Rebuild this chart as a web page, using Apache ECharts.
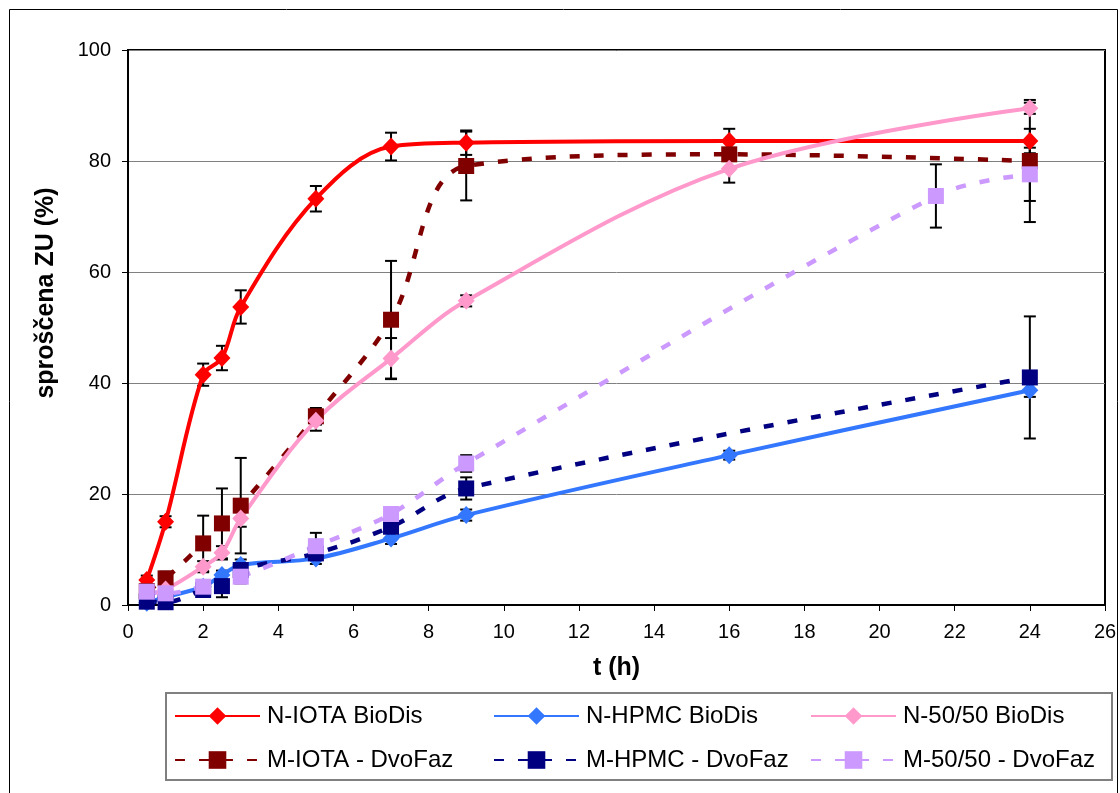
<!DOCTYPE html>
<html><head><meta charset="utf-8">
<script src="https://cdn.jsdelivr.net/npm/echarts@6/dist/echarts.min.js"></script>
<style>html,body{margin:0;padding:0;background:#fff}#c{width:1120px;height:793px}</style>
</head><body><div id="c"></div>
<script>
// ---- data ----
const seriesNames = ['N-IOTA BioDis','N-HPMC BioDis','N-50/50 BioDis','M-IOTA - DvoFaz','M-HPMC - DvoFaz','M-50/50 - DvoFaz'];
const xTicks = [0,2,4,6,8,10,12,14,16,18,20,22,24,26];
const yTicks = [0,20,40,60,80,100];
const xTitle = 't (h)';
const yTitle = 'sproščena ZU (%)';

const nTime = [0.5,1,2,2.5,3,5,7,9,16,24];
const nIota = [4.5,15,41.5,44.5,53.7,73.2,82.6,83.3,83.6,83.6];
const nIotaErr = [0.8,1,2,2.2,3,2.3,2.5,2.2,2.2,2.2];
const nHpmc = [0.4,1.4,3.3,5.4,7.2,8.4,12.0,16.2,27.0,38.7];
const nHpmcErr = [0.5,0.5,0.8,0.8,1,1,1,1,0.8,1.2];
const n5050 = [2.0,2.8,6.9,9.4,15.6,33.2,44.4,54.8,78.6,89.5];
const n5050Err = [0.5,0.5,1,1.2,1.5,1.8,3.7,1,2.5,1];

const mIotaTime = [0.5,1,2,2.5,3,5,7,9,16,24];
const mIota = [2.5,4.8,11.1,14.7,17.9,34,51.4,79.1,81.2,80];
const mIotaErr = [0.5,1.2,5,6.3,8.6,1.5,10.6,6.2,0.5,11];
const mHpmcTime = [0.5,1,2,2.5,3,5,7,9,24];
const mHpmc = [0.6,0.5,2.7,3.4,6.3,9.3,14.1,21,41];
const mHpmcErr = [0.3,0.3,0.8,2,1,1,1,2,11];
const m5050Time = [0.5,1,2,3,5,7,9,21.5,24];
const m5050 = [2.4,2.1,3.3,5.1,10.6,16.4,25.5,73.7,77.6];
const m5050Err = [0.5,0.5,1,1.2,2.4,1,1.5,5.7,4.8];

const colors = ['#FF0000','#3377FF','#FF99CC','#800000','#000080','#CC99FF'];
const FONT = 'Liberation Sans, Arial, sans-serif';

function pairs(t, v){ return t.map((x,i)=>[x,v[i]]); }
function errs(t, v, e){ return t.map((x,i)=>[x, v[i]-e[i], v[i]+e[i]]); }

function errSeries(data){
  return {
    type:'custom', data:data, z:1, silent:true,
    encode:{x:0,y:[1,2]},
    renderItem:function(params, api){
      const x = api.value(0), lo = api.value(1), hi = api.value(2);
      const p1 = api.coord([x,lo]), p2 = api.coord([x,hi]);
      const w = 6, st = {stroke:'#000', lineWidth:2};
      return {type:'group', children:[
        {type:'line', shape:{x1:p1[0],y1:p1[1],x2:p2[0],y2:p2[1]}, style:st},
        {type:'line', shape:{x1:p1[0]-w,y1:p1[1],x2:p1[0]+w,y2:p1[1]}, style:st},
        {type:'line', shape:{x1:p2[0]-w,y1:p2[1],x2:p2[0]+w,y2:p2[1]}, style:st}
      ]};
    }
  };
}

function lineSeries(idx, data, dashed){
  return {
    name: seriesNames[idx], type:'line', data:data, smooth:0.35, z:3,
    symbol: dashed ? 'rect' : 'diamond',
    symbolSize: dashed ? [16,16] : [17,18],
    itemStyle:{color:colors[idx]},
    lineStyle:{color:colors[idx], width: dashed ? 4.5 : 4, type: dashed ? [10,14] : 'solid'},
    emphasis:{disabled:true}
  };
}

const legendPos = [[174,704],[493,704],[810,704],[174,748],[493,748],[810,748]];
const legends = seriesNames.map((n,i)=>({
  data:[n], left:legendPos[i][0], top:legendPos[i][1], orient:'horizontal',
  itemWidth:85, itemHeight:22, itemGap:0, selectedMode:false, padding:0,
  textStyle:{fontSize:24, fontFamily:FONT, color:'#000', padding:[0,0,0,2]}
}));

const chart = echarts.init(document.getElementById('c'), null, {renderer:'canvas'});
chart.setOption({
  animation:false,
  backgroundColor:'#fff',
  grid:{left:128, right:15, top:50, bottom:188, show:true, borderColor:'#000', borderWidth:2, containLabel:false},
  legend: legends,
  xAxis:{
    type:'value', min:xTicks[0], max:xTicks[xTicks.length-1], interval:2,
    name:xTitle, nameLocation:'middle', nameGap:51,
    nameTextStyle:{fontSize:25, fontWeight:'bold', fontFamily:FONT, color:'#000'},
    axisLine:{show:true, lineStyle:{color:'#000', width:2}},
    axisTick:{show:true, length:6, lineStyle:{color:'#000', width:1}},
    axisLabel:{fontSize:20, fontFamily:FONT, color:'#000', margin:17},
    splitLine:{show:false}
  },
  yAxis:{
    type:'value', min:yTicks[0], max:yTicks[yTicks.length-1], interval:20,
    axisLine:{show:true, lineStyle:{color:'#000', width:2}},
    axisTick:{show:true, length:6, lineStyle:{color:'#000', width:1}},
    axisLabel:{fontSize:20, fontFamily:FONT, color:'#000', margin:17},
    splitLine:{show:true, lineStyle:{color:'#808080', width:1}}
  },
  graphic:[
    {type:'rect', shape:{x:9.5, y:9.5, width:1108, height:800}, style:{fill:'none', stroke:'#000', lineWidth:1}, z:-1, silent:true},
    {type:'rect', shape:{x:166, y:693, width:946, height:87}, style:{fill:'none', stroke:'#808080', lineWidth:2}, z:-1, silent:true},
    {type:'text', x:46, y:293, rotation:Math.PI/2, silent:true,
     style:{text:yTitle, fontSize:25, fontWeight:'bold', fontFamily:FONT, fill:'#000', textAlign:'center', textVerticalAlign:'middle'}}
  ],
  series:[
    errSeries(errs(nTime,nIota,nIotaErr)),
    errSeries(errs(nTime,nHpmc,nHpmcErr)),
    errSeries(errs(nTime,n5050,n5050Err)),
    errSeries(errs(mIotaTime,mIota,mIotaErr)),
    errSeries(errs(mHpmcTime,mHpmc,mHpmcErr)),
    errSeries(errs(m5050Time,m5050,m5050Err)),
    lineSeries(0, pairs(nTime,nIota), false),
    lineSeries(1, pairs(nTime,nHpmc), false),
    lineSeries(3, pairs(mIotaTime,mIota), true),
    lineSeries(2, pairs(nTime,n5050), false),
    lineSeries(4, pairs(mHpmcTime,mHpmc), true),
    lineSeries(5, pairs(m5050Time,m5050), true)
  ]
});
</script></body></html>
